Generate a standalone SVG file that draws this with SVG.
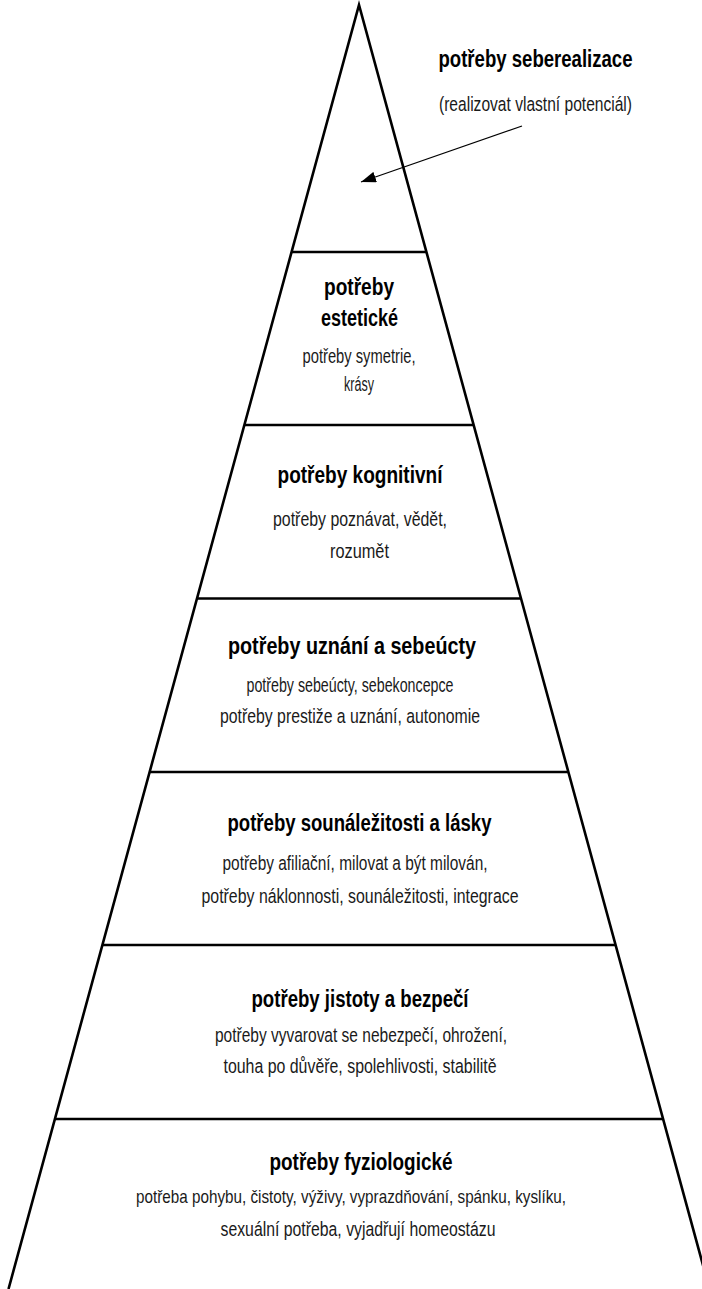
<svg xmlns="http://www.w3.org/2000/svg" width="702" height="1289" viewBox="0 0 702 1289">
  <style>
    .edge { fill: none; stroke: #000; stroke-width: 2.6; stroke-linejoin: miter; stroke-miterlimit: 20; }
    .sep { stroke: #000; stroke-width: 2.6; }
    .h { font-family: "Liberation Sans", Arial, sans-serif; font-weight: bold; font-size: 23px; fill: #000; text-anchor: middle; }
    .b { font-family: "Liberation Sans", Arial, sans-serif; font-size: 20.5px; fill: #1a1a1a; text-anchor: middle; }
    .arrow { stroke: #000; stroke-width: 1.3; fill: none; }
  </style>
  <defs>
    <marker id="ah" markerUnits="userSpaceOnUse" markerWidth="16" markerHeight="11" refX="15" refY="5.5" orient="auto">
      <path d="M0,0 L15,5.5 L0,11 z" fill="#000"/>
    </marker>
  </defs>
  <rect width="702" height="1289" fill="#fff"/>

  <g id="pyramid">
    <polyline class="edge" points="8.5,1289 359,5 709.5,1289"/>
    <line class="sep" x1="291.6" y1="252" x2="426.4" y2="252"/>
    <line class="sep" x1="244.3" y1="425" x2="473.7" y2="425"/>
    <line class="sep" x1="197" y1="598.5" x2="521" y2="598.5"/>
    <line class="sep" x1="149.6" y1="772" x2="568.4" y2="772"/>
    <line class="sep" x1="102.4" y1="945" x2="615.6" y2="945"/>
    <line class="sep" x1="54.9" y1="1119" x2="663.1" y2="1119"/>
  </g>

  <g id="seberealizace">
    <text class="h" x="535.5" y="66.5" textLength="194" lengthAdjust="spacingAndGlyphs">potřeby seberealizace</text>
    <text class="b" x="535.5" y="110.5" textLength="193" lengthAdjust="spacingAndGlyphs">(realizovat vlastní potenciál)</text>
  </g>

  <g id="esteticke">
    <text class="h" x="359" y="295" textLength="70" lengthAdjust="spacingAndGlyphs">potřeby</text>
    <text class="h" x="359.5" y="326" textLength="77" lengthAdjust="spacingAndGlyphs">estetické</text>
    <text class="b" x="359" y="363" textLength="113" lengthAdjust="spacingAndGlyphs">potřeby symetrie,</text>
    <text class="b" x="359" y="391" textLength="30" lengthAdjust="spacingAndGlyphs">krásy</text>
  </g>

  <g id="kognitivni">
    <text class="h" x="360" y="483" textLength="165" lengthAdjust="spacingAndGlyphs">potřeby kognitivní</text>
    <text class="b" x="360" y="526" textLength="174" lengthAdjust="spacingAndGlyphs">potřeby poznávat, vědět,</text>
    <text class="b" x="359.5" y="558" textLength="59" lengthAdjust="spacingAndGlyphs">rozumět</text>
  </g>

  <g id="uznani">
    <text class="h" x="352" y="654" textLength="248" lengthAdjust="spacingAndGlyphs">potřeby uznání a sebeúcty</text>
    <text class="b" x="350" y="692" textLength="207" lengthAdjust="spacingAndGlyphs">potřeby sebeúcty, sebekoncepce</text>
    <text class="b" x="350" y="723" textLength="260" lengthAdjust="spacingAndGlyphs">potřeby prestiže a uznání, autonomie</text>
  </g>

  <g id="sounalezitost">
    <text class="h" x="359.5" y="831" textLength="264" lengthAdjust="spacingAndGlyphs">potřeby sounáležitosti a lásky</text>
    <text class="b" x="355" y="870" textLength="265" lengthAdjust="spacingAndGlyphs">potřeby afiliační, milovat a být milován,</text>
    <text class="b" x="360" y="902.7" textLength="317" lengthAdjust="spacingAndGlyphs">potřeby náklonnosti, sounáležitosti, integrace</text>
  </g>

  <g id="bezpeci">
    <text class="h" x="360" y="1006.7" textLength="217" lengthAdjust="spacingAndGlyphs">potřeby jistoty a bezpečí</text>
    <text class="b" x="361" y="1041.7" textLength="292" lengthAdjust="spacingAndGlyphs">potřeby vyvarovat se nebezpečí, ohrožení,</text>
    <text class="b" x="360" y="1073.3" textLength="273" lengthAdjust="spacingAndGlyphs">touha po důvěře, spolehlivosti, stabilitě</text>
  </g>

  <g id="fyziologicke">
    <text class="h" x="361" y="1170" textLength="183" lengthAdjust="spacingAndGlyphs">potřeby fyziologické</text>
    <text class="b" x="351" y="1202.7" style="font-size:19px" textLength="430" lengthAdjust="spacingAndGlyphs">potřeba pohybu, čistoty, výživy, vyprazdňování, spánku, kyslíku,</text>
    <text class="b" x="358" y="1236" textLength="275" lengthAdjust="spacingAndGlyphs">sexuální potřeba, vyjadřují homeostázu</text>
  </g>

  <g id="connectors">
    <line class="arrow" x1="522" y1="126" x2="361" y2="182" marker-end="url(#ah)"/>
  </g>
</svg>
